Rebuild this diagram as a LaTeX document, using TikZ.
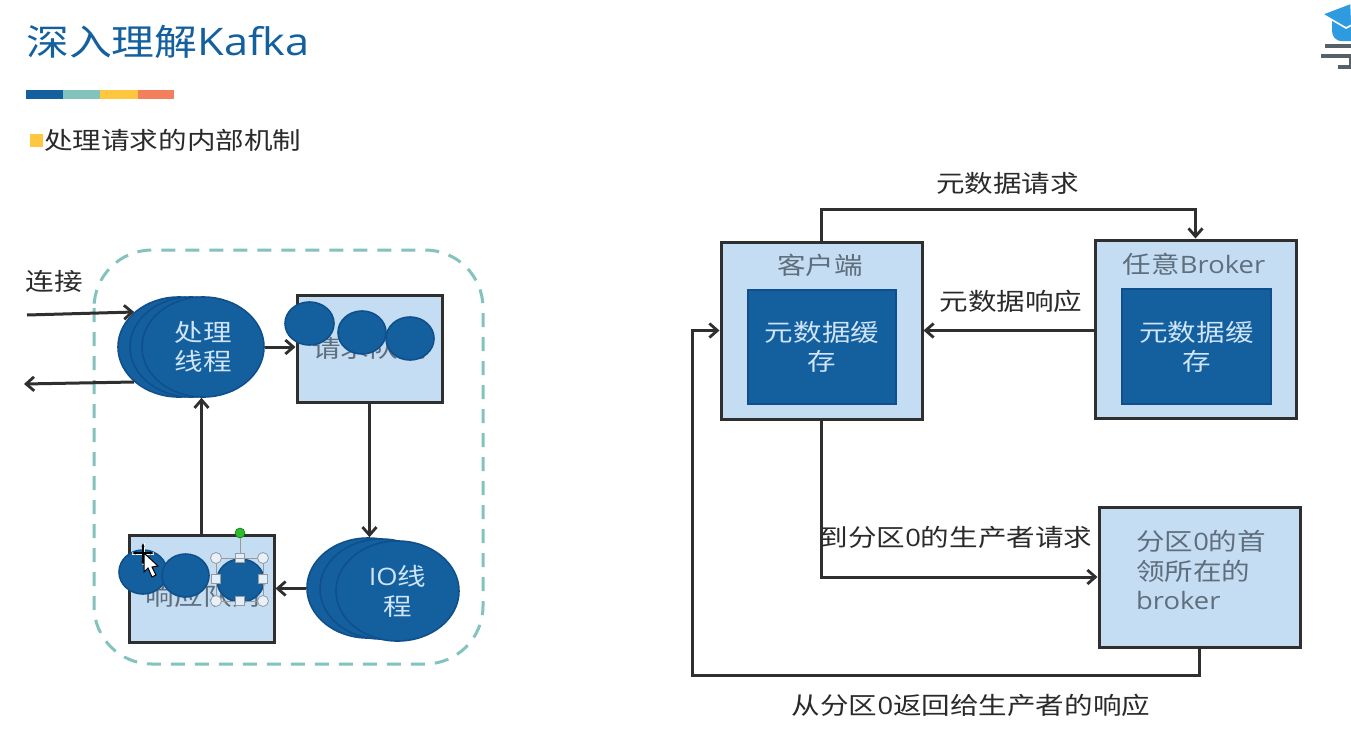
\documentclass[tikz,border=0pt]{standalone}
\usepackage{fontspec}
\setmainfont{Open Sans}
\newfontfamily\zh[FakeStretch=1.19]{Noto Sans CJK SC}
\newfontfamily\la[FakeStretch=1.14]{Open Sans}
\usetikzlibrary{arrows.meta,shapes.geometric}
\definecolor{dblue}{HTML}{14609F}
\definecolor{dedge}{HTML}{0F4F8C}
\definecolor{lblue}{HTML}{C5DDF3}
\definecolor{teal1}{HTML}{83C3BE}
\definecolor{yell1}{HTML}{FFC740}
\definecolor{coral1}{HTML}{F47F5D}
\definecolor{ink}{HTML}{2F2F2F}
\definecolor{grayt}{HTML}{5F6E7C}
\definecolor{lightt}{HTML}{CFE4F6}
\definecolor{capb}{HTML}{2E9BE0}
\definecolor{logog}{HTML}{556068}
\tikzset{
  x=1pt,y=-1pt,
  txt/.style={inner sep=0pt,font=\zh\fontsize{24}{29}\selectfont,text=ink!90!black,align=center},
  boxlight/.style={draw=ink,line width=3pt,fill=lblue,inner sep=0pt},
  boxdark/.style={draw=dedge,line width=1.8pt,fill=dblue,inner sep=0pt,text=lightt,align=center,font=\zh\fontsize{24}{29}\selectfont},
  blob/.style={ellipse,draw=dedge,line width=1.6pt,fill=dblue,inner sep=0pt,text=lightt,align=center,font=\zh\fontsize{24}{29}\selectfont},
  conn/.style={draw=ink,line width=3pt,-{Straight Barb[length=8pt,width=14pt,line width=2.8pt]}},
  sq/.style={draw=gray!80,line width=.8pt,fill=lblue!50!white,inner sep=0pt,minimum size=9pt},
  rnd/.style={circle,draw=gray!80,line width=.8pt,fill=lblue!40!white,inner sep=0pt,minimum size=11pt},
}
\begin{document}
\begin{tikzpicture}
\useasboundingbox (0,0) rectangle (1351,747);
\fill[white] (0,0) rectangle (1351,747);
% title
\node[anchor=west,inner sep=0pt,text=dblue,font=\fontsize{36}{40}\selectfont] (title) at (26,42) {\zh 深入理解{\la\fontsize{38}{40}\selectfont Kafka}};
\fill[dblue] (26,90) rectangle (63,99);
\fill[teal1] (63,90) rectangle (100,99);
\fill[yell1] (100,90) rectangle (138,99);
\fill[coral1] (138,90) rectangle (174,99);
\fill[yell1] (30,134) rectangle (43,147);
\node[txt,anchor=west] (sub) at (44,140) {处理请求的内部机制};
% logo
\fill[capb] (1332,20) -- (1351,20) -- (1351,41) -- (1342,41) .. controls (1335,41) and (1332,36) .. (1332,30) -- cycle;
\draw[fill=capb,draw=white,line width=1.6pt] (1322,14) -- (1351,3) -- (1352,25) -- (1346,28) -- cycle;
\draw[logog,line width=3.6pt] (1325,46) -- (1351,46);
\draw[logog,line width=3.6pt] (1321,56) -- (1351,56);
\draw[logog,line width=3.6pt] (1338,67) -- (1351,67);
\draw[logog,line width=2pt] (1350,56) -- (1350,67);
% left diagram
\draw[teal1,line width=3pt,dash pattern=on 14pt off 10pt,rounded corners=58pt] (94,250) rectangle (483,664);
\node[boxlight,minimum width=145pt,minimum height=107pt] (reqq) at (369.5,348.5) {};
\node[inner sep=0pt,text=grayt,font=\zh\fontsize{24}{29}\selectfont] (reqt) at (369.5,348) {请求队列};
\node[blob,minimum width=49pt,minimum height=43pt] (r1) at (309.5,323.5) {};
\node[blob,minimum width=48pt,minimum height=43pt] (r2) at (362,332.5) {};
\node[blob,minimum width=48pt,minimum height=43pt] (r3) at (410,338.5) {};
\node[boxlight,minimum width=145pt,minimum height=107pt] (resq) at (201.5,588.5) {};
\node[inner sep=0pt,text=grayt,font=\zh\fontsize{24}{29}\selectfont] (rest) at (203,596) {响应队列};
\node[blob,minimum width=48pt,minimum height=44pt] (s1) at (143,572) {};
\node[blob,minimum width=47pt,minimum height=43pt] (s2) at (185.5,575.5) {};
\node[blob,minimum width=47pt,minimum height=43pt] (s3) at (240.5,580.5) {};
\node[blob,minimum width=122pt,minimum height=100pt] (h1) at (179,347) {};
\node[blob,minimum width=122pt,minimum height=100pt] (h2) at (191,347) {};
\node[blob,minimum width=122pt,minimum height=100pt] (h3) at (203,347) {处理\\线程};
\node[blob,minimum width=122pt,minimum height=100pt] (i1) at (368,588) {};
\node[blob,minimum width=122pt,minimum height=100pt] (i2) at (381,589) {};
\node[blob,minimum width=123pt,minimum height=100pt,font=\zh\fontsize{24}{30}\selectfont] (i3) at (397.5,591) {{\la IO}线\\程};
\coordinate (connIn) at (27,315);
\coordinate (connOut) at (24,384);
\node[txt] (conn) at (54.5,281) {连接};
\draw[conn] (connIn) -- (h1.142);
\draw[conn] (h1.218) -- (connOut);
\draw[conn] (h3.east) -- (h3.east -| reqq.west);
\draw[conn] (reqq.south) -- (i1.north -| reqq.south);
\draw[conn] (i1.west |- resq.east) ++(0,0) -- (resq.east);
\draw[conn] (h3.south -| resq.north) ++(0,138) -- (h3.south -| resq.north);
% selection handles and cursor
\node[circle,fill=green!65!black!80!white,draw=green!50!black,line width=.6pt,inner sep=0pt,minimum size=10pt] (gh) at (240,533) {};
\node[sq] (t) at (240,558) {};
\draw[gray!80,line width=.8pt] (gh) -- (t);
\draw[gray!80,line width=.8pt] (216,558) rectangle (263,601);
\node[rnd] (c1) at (216,558) {};
\node[rnd] (c2) at (263,558) {};
\node[rnd] (c3) at (216,601) {};
\node[rnd] (c4) at (263,601) {};
\node[sq] (l) at (216,579) {};
\node[sq] (r) at (263,579) {};
\node[sq] (b) at (240,601) {};
\draw[white,line width=3pt] (132,553) -- (154,553) (143,543) -- (143,565);
\draw[black,line width=1.4pt,{Stealth[length=4pt]}-{Stealth[length=4pt]}] (132,553) -- (154,553);
\draw[black,line width=1.4pt,{Stealth[length=4pt]}-{Stealth[length=4pt]}] (143,543) -- (143,565);
\draw[fill=white,draw=black,line width=1pt] (144,553) -- (144,572) -- (148,568) -- (152,577) -- (156,575) -- (152,567) -- (158,566) -- cycle;
% right diagram
\node[boxlight,minimum width=201pt,minimum height=177pt] (client) at (821.5,330.5) {};
\node[boxdark,minimum width=148pt,minimum height=114pt] (cache1) at (822,347) {元数据缓\\存};
\node[inner sep=0pt,text=grayt,font=\zh\fontsize{24}{29}\selectfont] (clientt) at (820,265) {客户端};
\node[boxlight,minimum width=201pt,minimum height=178pt] (broker) at (1195.5,329) {};
\node[boxdark,minimum width=149pt,minimum height=115pt] (cache2) at (1196.5,346.5) {元数据缓\\存};
\node[inner sep=0pt,text=grayt,font=\zh\fontsize{24}{29}\selectfont] (brokert) at (1194,264) {任意{\la Broker}};
\node[boxlight,minimum width=201pt,minimum height=140pt] (leader) at (1199.5,577) {};
\node[anchor=west,inner sep=0pt,text=grayt,align=left,font=\zh\fontsize{24}{29.5}\selectfont] (leadert) at (1136,570) {分区{\la 0}的首\\领所在的\\{\la broker}};
\node[txt] (l1) at (1007.5,183) {元数据请求};
\node[txt] (l2) at (1011,301) {元数据响应};
\node[txt] (l3) at (956,537) {到分区{\la 0}的生产者请求};
\node[txt] (l4) at (971,705) {从分区{\la 0}返回给生产者的响应};
\draw[conn] (client.north) -- ++(0,-31) -| (broker.north);
\draw[conn] (broker.west |- client.center) -- (client.east);
\draw[conn] (client.south) |- (leader.west);
\coordinate (loopL) at (692,675);
\draw[conn] (leader.south) |- (loopL) |- (client.west);
\end{tikzpicture}
\end{document}
